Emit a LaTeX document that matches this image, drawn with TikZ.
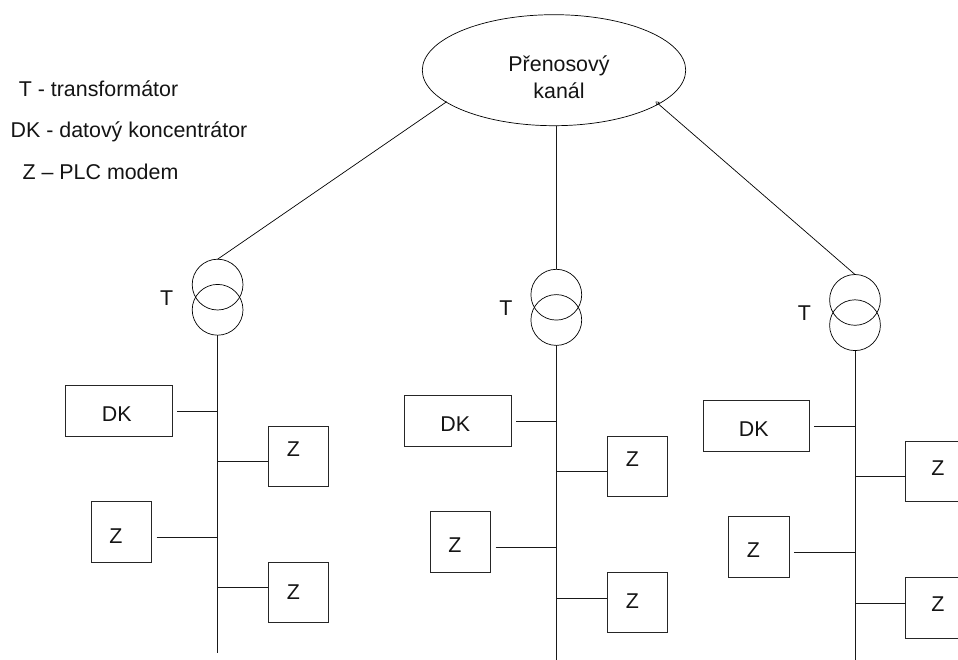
\documentclass[tikz,border=0pt]{standalone}
\usepackage{fontspec}
\setmainfont{Liberation Sans}
\usetikzlibrary{arrows.meta,shapes.geometric}
\tikzset{
  wire/.style={line width=0.85pt,black!90},
  thin wire/.style={line width=0.7pt,black},
  box/.style={draw=black!85,line width=0.9pt,rectangle,inner sep=0pt,outer sep=0pt},
  zbox/.style={box,minimum width=60.6pt,minimum height=60.5pt},
  dkbox/.style={box,minimum width=106.3pt,minimum height=50.3pt},
  coil/.style={draw=black,line width=0.7pt,circle,minimum size=50.8pt,inner sep=0pt,outer sep=0pt},
  txt/.style={font=\fontsize{21.4pt}{26.6pt}\selectfont,inner sep=0pt,outer sep=0pt,align=center,text=black!92,anchor=base}
}
\begin{document}
\begin{tikzpicture}[x=1pt,y=-1pt]
\useasboundingbox (0,0) rectangle (958,660);
% legend
\node[txt] (lg1) at (98.5,96.7) {T - transformátor};
\node[txt] (lg2) at (129,137.7) {DK - datový koncentrátor};
\node[txt] (lg3) at (100.5,180) {Z – PLC modem};
% channel
\node[draw=black,line width=0.7pt,ellipse,minimum width=263.4pt,minimum height=111pt,inner sep=0pt,outer sep=0pt] (chan) at (554,70.2) {};
\node[txt,anchor=center] (chantxt) at (559,77) {Přenosový\\kanál};
\coordinate (cl) at (446.7,101.7);
\coordinate (cr) at (655.5,101.5);
\coordinate (cm) at (556.3,125.7);
% column 1
\node[coil] (t1a) at (217.6,284.6) {};
\node[coil] (t1b) at (217.6,309.8) {};
\node[txt] (t1l) at (166.7,305.7) {T};
\coordinate (e1) at (217.6,653);
\coordinate (j1a) at (217.6,411);
\coordinate (j1b) at (217.6,461.3);
\coordinate (j1c) at (217.6,537);
\coordinate (j1d) at (217.6,587.7);
\node[dkbox] (dk1) at (118.85,410.85) {};
\node[zbox] (z1a) at (298.5,456.35) {};
\node[zbox] (z1b) at (121.5,532) {};
\node[zbox] (z1c) at (298.5,592.65) {};
\coordinate (s1a) at (177,411);
\coordinate (s1c) at (156.7,537);
\node[txt] (l1d) at (116.7,421.7) {DK};
\node[txt] (l1a) at (293.3,456.7) {Z};
\node[txt] (l1b) at (116,543) {Z};
\node[txt] (l1c) at (293.3,599) {Z};
\draw[thin wire] (cl) -- (t1a.north);
\draw[wire] (t1b.south) -- (e1);
\draw[wire] (s1a) -- (j1a);
\draw[wire] (j1b) -- (z1a.west |- j1b);
\draw[wire] (s1c) -- (j1c);
\draw[wire] (j1d) -- (z1c.west |- j1d);
% column 2
\node[coil] (t2a) at (556.3,294.7) {};
\node[coil] (t2b) at (556.3,320) {};
\node[txt] (t2l) at (506,316) {T};
\coordinate (e2) at (556.3,660);
\coordinate (j2a) at (556.3,421);
\coordinate (j2b) at (556.3,471.3);
\coordinate (j2c) at (556.3,547);
\coordinate (j2d) at (556.3,598);
\node[dkbox] (dk2) at (457.85,420.85) {};
\node[zbox] (z2a) at (637.5,466.5) {};
\node[zbox] (z2b) at (460.5,542) {};
\node[zbox] (z2c) at (637.5,602.65) {};
\coordinate (s2a) at (516,421);
\coordinate (s2c) at (495.7,547);
\node[txt] (l2d) at (455.3,431.7) {DK};
\node[txt] (l2a) at (632.3,466.7) {Z};
\node[txt] (l2b) at (455,552.7) {Z};
\node[txt] (l2c) at (632.3,608.7) {Z};
\draw[wire] (cm) -- (t2a.north);
\draw[wire] (t2b.south) -- (e2);
\draw[wire] (s2a) -- (j2a);
\draw[wire] (j2b) -- (z2a.west |- j2b);
\draw[wire] (s2c) -- (j2c);
\draw[wire] (j2d) -- (z2c.west |- j2d);
% column 3
\node[coil] (t3a) at (855,299.9) {};
\node[coil] (t3b) at (855,325.2) {};
\node[txt] (t3l) at (804.3,320.7) {T};
\coordinate (e3) at (855,660);
\coordinate (j3a) at (855,426);
\coordinate (j3b) at (855,476.7);
\coordinate (j3c) at (855,552.3);
\coordinate (j3d) at (855,603);
\node[dkbox] (dk3) at (756.35,426) {};
\node[zbox] (z3a) at (936,471.5) {};
\node[zbox] (z3b) at (758.8,547.15) {};
\node[zbox] (z3c) at (936,608) {};
\coordinate (s3a) at (814.3,426);
\coordinate (s3c) at (794.3,552.3);
\node[txt] (l3d) at (753.7,436.7) {DK};
\node[txt] (l3a) at (938,475) {Z};
\node[txt] (l3b) at (753.3,557.7) {Z};
\node[txt] (l3c) at (938,611) {Z};
\draw[thin wire,-{Triangle[open,length=3.5pt,width=4.5pt,line width=0.5pt]}] (t3a.north) -- (cr);
\draw[wire] (t3b.south) -- (e3);
\draw[wire] (s3a) -- (j3a);
\draw[wire] (j3b) -- (z3a.west |- j3b);
\draw[wire] (s3c) -- (j3c);
\draw[wire] (j3d) -- (z3c.west |- j3d);
\end{tikzpicture}
\end{document}
